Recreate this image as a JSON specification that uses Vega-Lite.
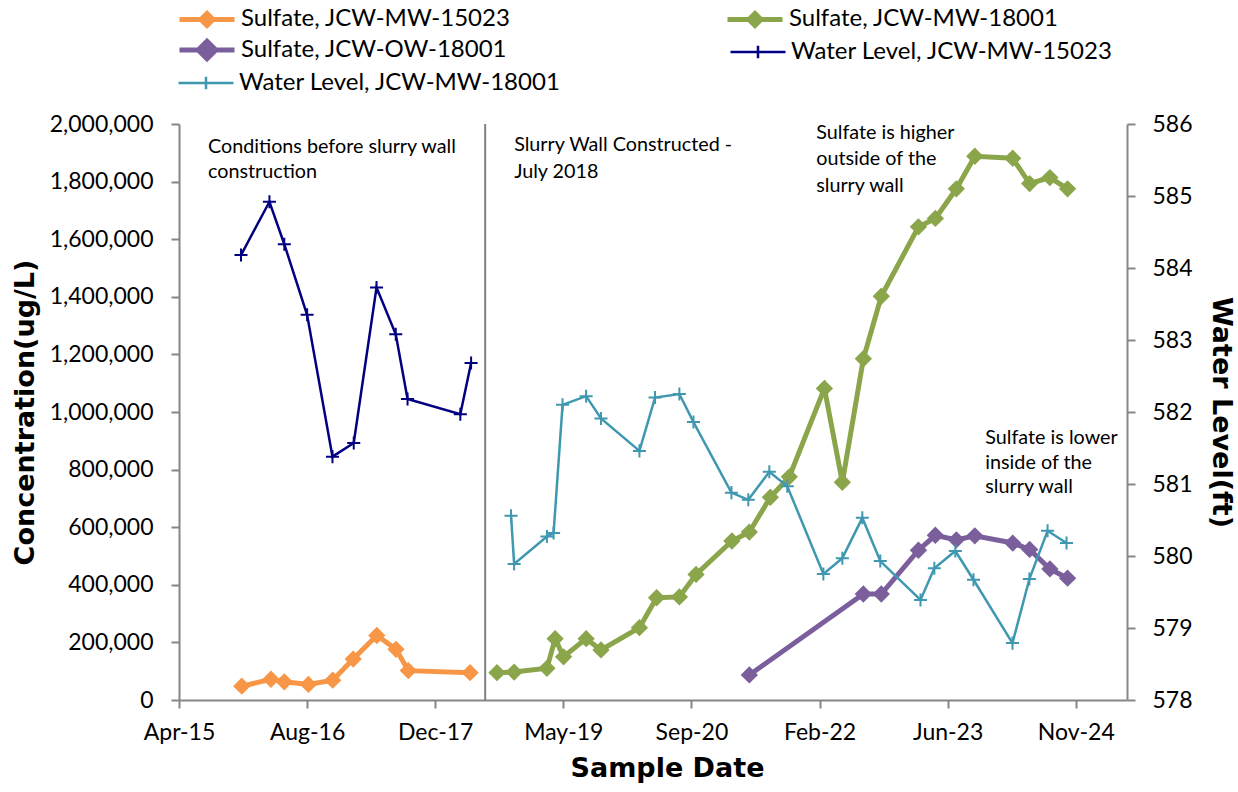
{
  "$schema": "https://vega.github.io/schema/vega-lite/v6.json",
  "width": 948,
  "height": 576,
  "autosize": {"type": "none"},
  "padding": {"left": 179, "top": 124, "right": 111, "bottom": 92},
  "background": "white",
  "config": {
    "view": {"stroke": null},
    "axis": {
      "labelFont": "Lato", "labelFontSize": 23, "labelColor": "black",
      "domainColor": "#868686", "domainWidth": 2,
      "tickColor": "#868686", "tickWidth": 2, "tickSize": 8,
      "grid": false,
      "titleFont": "DejaVu Sans", "titleFontWeight": "bold", "titleFontSize": 27, "titleColor": "black"
    },
    "legend": {
      "labelFont": "Lato", "labelFontSize": 24, "labelColor": "black", "labelLimit": 600,
      "symbolSize": 3025, "labelOffset": 4, "orient": "none", "direction": "horizontal"
    }
  },
  "datasets": {
    "wall": [{"date": "2018-07-12"}],
    "sulfate": [
      {"date": "2015-12-05", "series": "Sulfate, JCW-MW-15023", "conc": 48000},
      {"date": "2016-03-28", "series": "Sulfate, JCW-MW-15023", "conc": 72000},
      {"date": "2016-05-19", "series": "Sulfate, JCW-MW-15023", "conc": 63000},
      {"date": "2016-08-21", "series": "Sulfate, JCW-MW-15023", "conc": 54000},
      {"date": "2016-11-24", "series": "Sulfate, JCW-MW-15023", "conc": 69000},
      {"date": "2017-02-12", "series": "Sulfate, JCW-MW-15023", "conc": 142000},
      {"date": "2017-05-15", "series": "Sulfate, JCW-MW-15023", "conc": 224000},
      {"date": "2017-07-29", "series": "Sulfate, JCW-MW-15023", "conc": 176000},
      {"date": "2017-09-15", "series": "Sulfate, JCW-MW-15023", "conc": 102000},
      {"date": "2018-05-14", "series": "Sulfate, JCW-MW-15023", "conc": 95000},
      {"date": "2018-08-27", "series": "Sulfate, JCW-MW-18001", "conc": 95000},
      {"date": "2018-11-02", "series": "Sulfate, JCW-MW-18001", "conc": 97000},
      {"date": "2019-03-10", "series": "Sulfate, JCW-MW-18001", "conc": 110000},
      {"date": "2019-04-11", "series": "Sulfate, JCW-MW-18001", "conc": 213000},
      {"date": "2019-05-14", "series": "Sulfate, JCW-MW-18001", "conc": 150000},
      {"date": "2019-08-10", "series": "Sulfate, JCW-MW-18001", "conc": 213000},
      {"date": "2019-10-07", "series": "Sulfate, JCW-MW-18001", "conc": 174000},
      {"date": "2020-03-05", "series": "Sulfate, JCW-MW-18001", "conc": 251000},
      {"date": "2020-05-11", "series": "Sulfate, JCW-MW-18001", "conc": 355000},
      {"date": "2020-08-08", "series": "Sulfate, JCW-MW-18001", "conc": 358000},
      {"date": "2020-10-12", "series": "Sulfate, JCW-MW-18001", "conc": 436000},
      {"date": "2021-03-01", "series": "Sulfate, JCW-MW-18001", "conc": 552000},
      {"date": "2021-05-08", "series": "Sulfate, JCW-MW-18001", "conc": 583000},
      {"date": "2021-07-29", "series": "Sulfate, JCW-MW-18001", "conc": 704000},
      {"date": "2021-10-11", "series": "Sulfate, JCW-MW-18001", "conc": 775000},
      {"date": "2022-02-25", "series": "Sulfate, JCW-MW-18001", "conc": 1082000},
      {"date": "2022-05-06", "series": "Sulfate, JCW-MW-18001", "conc": 756000},
      {"date": "2022-07-27", "series": "Sulfate, JCW-MW-18001", "conc": 1185000},
      {"date": "2022-10-05", "series": "Sulfate, JCW-MW-18001", "conc": 1402000},
      {"date": "2023-02-27", "series": "Sulfate, JCW-MW-18001", "conc": 1643000},
      {"date": "2023-05-04", "series": "Sulfate, JCW-MW-18001", "conc": 1672000},
      {"date": "2023-07-25", "series": "Sulfate, JCW-MW-18001", "conc": 1775000},
      {"date": "2023-10-05", "series": "Sulfate, JCW-MW-18001", "conc": 1888000},
      {"date": "2024-03-01", "series": "Sulfate, JCW-MW-18001", "conc": 1881000},
      {"date": "2024-05-06", "series": "Sulfate, JCW-MW-18001", "conc": 1793000},
      {"date": "2024-07-24", "series": "Sulfate, JCW-MW-18001", "conc": 1814000},
      {"date": "2024-10-01", "series": "Sulfate, JCW-MW-18001", "conc": 1775000},
      {"date": "2021-05-08", "series": "Sulfate, JCW-OW-18001", "conc": 87000},
      {"date": "2022-07-27", "series": "Sulfate, JCW-OW-18001", "conc": 368000},
      {"date": "2022-10-05", "series": "Sulfate, JCW-OW-18001", "conc": 368000},
      {"date": "2023-02-27", "series": "Sulfate, JCW-OW-18001", "conc": 520000},
      {"date": "2023-05-04", "series": "Sulfate, JCW-OW-18001", "conc": 572000},
      {"date": "2023-07-25", "series": "Sulfate, JCW-OW-18001", "conc": 556000},
      {"date": "2023-10-05", "series": "Sulfate, JCW-OW-18001", "conc": 570000},
      {"date": "2024-03-01", "series": "Sulfate, JCW-OW-18001", "conc": 545000},
      {"date": "2024-05-06", "series": "Sulfate, JCW-OW-18001", "conc": 523000},
      {"date": "2024-07-24", "series": "Sulfate, JCW-OW-18001", "conc": 455000},
      {"date": "2024-10-01", "series": "Sulfate, JCW-OW-18001", "conc": 423000}
    ],
    "water": [
      {"date": "2015-12-02", "series": "Water Level, JCW-MW-15023", "level": 584.18},
      {"date": "2016-03-22", "series": "Water Level, JCW-MW-15023", "level": 584.92},
      {"date": "2016-05-19", "series": "Water Level, JCW-MW-15023", "level": 584.33},
      {"date": "2016-08-16", "series": "Water Level, JCW-MW-15023", "level": 583.35},
      {"date": "2016-11-23", "series": "Water Level, JCW-MW-15023", "level": 581.38},
      {"date": "2017-02-14", "series": "Water Level, JCW-MW-15023", "level": 581.57},
      {"date": "2017-05-14", "series": "Water Level, JCW-MW-15023", "level": 583.73},
      {"date": "2017-07-28", "series": "Water Level, JCW-MW-15023", "level": 583.08},
      {"date": "2017-09-12", "series": "Water Level, JCW-MW-15023", "level": 582.18},
      {"date": "2018-04-06", "series": "Water Level, JCW-MW-15023", "level": 581.97},
      {"date": "2018-05-18", "series": "Water Level, JCW-MW-15023", "level": 582.68},
      {"date": "2018-10-21", "series": "Water Level, JCW-MW-18001", "level": 580.56},
      {"date": "2018-11-02", "series": "Water Level, JCW-MW-18001", "level": 579.89},
      {"date": "2019-03-10", "series": "Water Level, JCW-MW-18001", "level": 580.27},
      {"date": "2019-04-05", "series": "Water Level, JCW-MW-18001", "level": 580.32},
      {"date": "2019-05-10", "series": "Water Level, JCW-MW-18001", "level": 582.10},
      {"date": "2019-08-10", "series": "Water Level, JCW-MW-18001", "level": 582.22},
      {"date": "2019-10-07", "series": "Water Level, JCW-MW-18001", "level": 581.91},
      {"date": "2020-03-05", "series": "Water Level, JCW-MW-18001", "level": 581.46},
      {"date": "2020-05-05", "series": "Water Level, JCW-MW-18001", "level": 582.20},
      {"date": "2020-08-08", "series": "Water Level, JCW-MW-18001", "level": 582.25},
      {"date": "2020-10-02", "series": "Water Level, JCW-MW-18001", "level": 581.86},
      {"date": "2021-02-27", "series": "Water Level, JCW-MW-18001", "level": 580.88},
      {"date": "2021-05-04", "series": "Water Level, JCW-MW-18001", "level": 580.78},
      {"date": "2021-07-25", "series": "Water Level, JCW-MW-18001", "level": 581.17},
      {"date": "2021-10-03", "series": "Water Level, JCW-MW-18001", "level": 580.97},
      {"date": "2022-02-21", "series": "Water Level, JCW-MW-18001", "level": 579.75},
      {"date": "2022-05-06", "series": "Water Level, JCW-MW-18001", "level": 579.97},
      {"date": "2022-07-23", "series": "Water Level, JCW-MW-18001", "level": 580.53},
      {"date": "2022-10-01", "series": "Water Level, JCW-MW-18001", "level": 579.93},
      {"date": "2023-03-07", "series": "Water Level, JCW-MW-18001", "level": 579.39},
      {"date": "2023-04-30", "series": "Water Level, JCW-MW-18001", "level": 579.83},
      {"date": "2023-07-21", "series": "Water Level, JCW-MW-18001", "level": 580.07},
      {"date": "2023-09-30", "series": "Water Level, JCW-MW-18001", "level": 579.67},
      {"date": "2024-02-29", "series": "Water Level, JCW-MW-18001", "level": 578.79},
      {"date": "2024-05-05", "series": "Water Level, JCW-MW-18001", "level": 579.68},
      {"date": "2024-07-15", "series": "Water Level, JCW-MW-18001", "level": 580.35},
      {"date": "2024-09-27", "series": "Water Level, JCW-MW-18001", "level": 580.18}
    ],
    "notes": [
      {"date": "2015-07-26", "conc": 1920000, "label": "Conditions before slurry wall"},
      {"date": "2015-07-26", "conc": 1833000, "label": "construction"},
      {"date": "2018-11-02", "conc": 1927000, "label": "Slurry Wall Constructed -"},
      {"date": "2018-11-02", "conc": 1833000, "label": "July 2018"},
      {"date": "2022-01-24", "conc": 1969000, "label": "Sulfate is higher"},
      {"date": "2022-01-24", "conc": 1878000, "label": "outside of the"},
      {"date": "2022-01-24", "conc": 1785000, "label": "slurry wall"},
      {"date": "2023-11-15", "conc": 908000, "label": "Sulfate is lower"},
      {"date": "2023-11-15", "conc": 824000, "label": "inside of the"},
      {"date": "2023-11-15", "conc": 741000, "label": "slurry wall"}
    ]
  },
  "layer": [
    {
      "data": {"name": "wall"},
      "mark": {"type": "rule", "color": "#808080", "strokeWidth": 2},
      "encoding": {
        "x": {
          "field": "date", "type": "temporal",
          "scale": {"type": "utc", "domain": [{"year": 2015, "month": 4, "date": 4, "utc": true}, {"year": 2025, "month": 5, "date": 21, "utc": true}]},
          "axis": {
            "title": "Sample Date", "labelExpr": "utcFormat(datum.value, '%b-%y')",
            "values": [
              {"year": 2015, "month": 4, "date": 4, "utc": true},
              {"year": 2016, "month": 8, "date": 16, "utc": true},
              {"year": 2017, "month": 12, "date": 29, "utc": true},
              {"year": 2019, "month": 5, "date": 13, "utc": true},
              {"year": 2020, "month": 9, "date": 24, "utc": true},
              {"year": 2022, "month": 2, "date": 6, "utc": true},
              {"year": 2023, "month": 6, "date": 21, "utc": true},
              {"year": 2024, "month": 11, "date": 2, "utc": true}
            ],
            "labelFlush": false, "labelOverlap": false, "labelPadding": 13, "titlePadding": 11, "titleX": 488
          }
        }
      }
    },
    {
      "layer": [
        {
          "data": {"name": "sulfate"},
          "mark": {"type": "line", "strokeWidth": 5},
          "encoding": {
            "x": {"field": "date", "type": "temporal"},
            "y": {
              "field": "conc", "type": "quantitative",
              "scale": {"domain": [0, 2000000], "nice": false, "zero": true},
              "axis": {
                "orient": "left", "title": "Concentration(ug/L)", "labelExpr": "format(datum.value, ',')",
                "values": [0, 200000, 400000, 600000, 800000, 1000000, 1200000, 1400000, 1600000, 1800000, 2000000],
                "labelPadding": 18, "titlePadding": 10
              }
            },
            "color": {
              "field": "series", "type": "nominal",
              "scale": {
                "domain": ["Sulfate, JCW-MW-15023", "Sulfate, JCW-MW-18001", "Sulfate, JCW-OW-18001"],
                "range": ["#F79646", "#8AA54A", "#7B5E9C"]
              },
              "legend": {
                "title": null, "legendX": -2, "legendY": -135,
                "values": ["Sulfate, JCW-MW-15023", "Sulfate, JCW-MW-18001"],
                "columns": 2, "columnPadding": 206,
                "symbolType": "M-1,0H1M0,-0.22L0.22,0L0,0.22L-0.22,0ZM0,-0.12L0.12,0L0,0.12L-0.12,0ZM0,-0.03L0.03,0L0,0.03L-0.03,0Z", "symbolStrokeWidth": 5
              }
            }
          }
        },
        {
          "data": {"name": "sulfate"},
          "mark": {"type": "point", "shape": "diamond", "filled": true, "size": 300, "opacity": 1},
          "encoding": {
            "x": {"field": "date", "type": "temporal"},
            "y": {"field": "conc", "type": "quantitative"},
            "color": {
              "field": "series", "type": "nominal",
              "scale": {
                "domain": ["Sulfate, JCW-MW-15023", "Sulfate, JCW-MW-18001", "Sulfate, JCW-OW-18001"],
                "range": ["#F79646", "#8AA54A", "#7B5E9C"]
              },
              "legend": {
                "title": null, "legendX": -2, "legendY": -104,
                "values": ["Sulfate, JCW-OW-18001"],
                "symbolType": "M-1,0H1M0,-0.32L0.32,0L0,0.32L-0.32,0Z", "symbolStrokeWidth": 5,
                "symbolStrokeColor": "#7B5E9C", "symbolFillColor": "#7B5E9C"
              }
            }
          }
        },
        {
          "data": {"name": "notes"},
          "mark": {"type": "text", "align": "left", "baseline": "middle", "font": "Lato", "fontSize": 19.75, "color": "black"},
          "encoding": {
            "x": {"field": "date", "type": "temporal"},
            "y": {"field": "conc", "type": "quantitative"},
            "text": {"field": "label"}
          }
        }
      ],
      "resolve": {"scale": {"color": "independent"}}
    },
    {
      "layer": [
        {
          "data": {"name": "water"},
          "mark": {"type": "line", "strokeWidth": 2.5},
          "encoding": {
            "x": {"field": "date", "type": "temporal"},
            "y": {
              "field": "level", "type": "quantitative",
              "scale": {"domain": [578, 586], "nice": false, "zero": false},
              "axis": {
                "orient": "right", "title": "Water Level(ft)", "format": "d",
                "values": [578, 579, 580, 581, 582, 583, 584, 585, 586],
                "labelPadding": 17, "titlePadding": 14
              }
            },
            "stroke": {
              "field": "series", "type": "nominal",
              "scale": {
                "domain": ["Water Level, JCW-MW-15023", "Water Level, JCW-MW-18001"],
                "range": ["#000080", "#3F98B0"]
              },
              "legend": {
                "title": null, "legendX": 550, "legendY": -101,
                "values": ["Water Level, JCW-MW-15023"],
                "symbolType": "M-1,0H1M0,-0.23V0.23", "symbolStrokeWidth": 2.5
              }
            }
          }
        },
        {
          "data": {"name": "water"},
          "mark": {"type": "point", "shape": "M-1,0H1M0,-1V1", "filled": false, "size": 170, "strokeWidth": 2, "opacity": 1},
          "encoding": {
            "x": {"field": "date", "type": "temporal"},
            "y": {"field": "level", "type": "quantitative"},
            "stroke": {
              "field": "series", "type": "nominal",
              "scale": {
                "domain": ["Water Level, JCW-MW-15023", "Water Level, JCW-MW-18001"],
                "range": ["#000080", "#3F98B0"]
              },
              "legend": {
                "title": null, "legendX": -2, "legendY": -70,
                "values": ["Water Level, JCW-MW-18001"],
                "symbolType": "M-1,0H1M0,-0.23V0.23", "symbolStrokeWidth": 2.5
              }
            }
          }
        }
      ],
      "resolve": {"scale": {"stroke": "independent"}}
    }
  ],
  "resolve": {"scale": {"y": "independent", "color": "independent", "stroke": "independent"}}
}
